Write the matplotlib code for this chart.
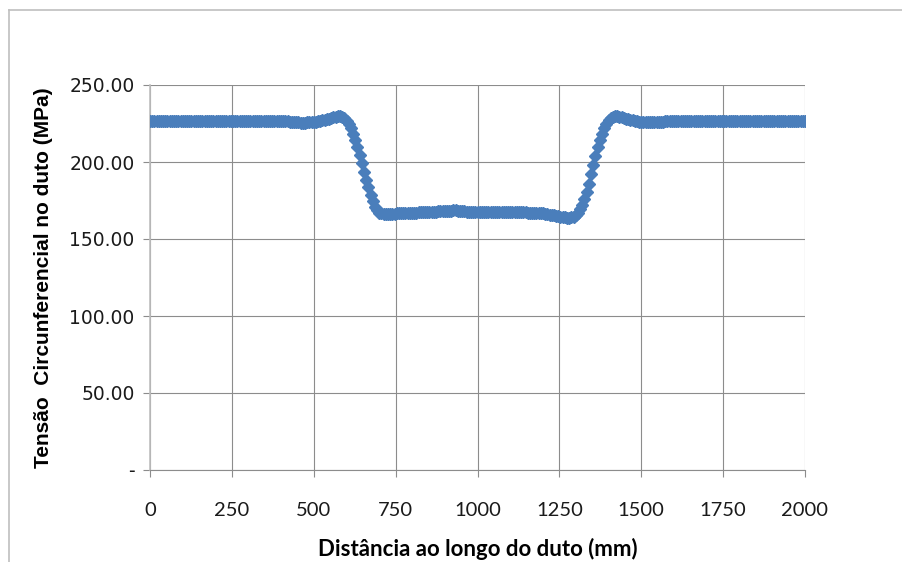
import numpy as np
import matplotlib
matplotlib.use("Agg")
import matplotlib.pyplot as plt
from matplotlib.lines import Line2D

# distance along the pipe (mm): 301 readings from 0 to 2000
distancia = np.linspace(0, 2000, 301)

# hoop stress (MPa)
flat_start = [
    226.6, 226.6, 226.6, 226.6, 226.6, 226.6, 226.6, 226.6, 226.6, 226.6,
    226.6, 226.6, 226.6, 226.6, 226.6, 226.6, 226.6, 226.6, 226.6, 226.6,
    226.6, 226.6, 226.6, 226.6, 226.6, 226.6, 226.6, 226.6, 226.6, 226.6,
    226.6, 226.6, 226.6, 226.6, 226.6, 226.6, 226.6, 226.6, 226.6, 226.6,
    226.6, 226.6, 226.6, 226.6, 226.6, 226.6, 226.6, 226.6, 226.6, 226.6,
    226.6, 226.6, 226.6, 226.6, 226.6, 226.6, 226.6, 226.6, 226.6, 226.6,
    226.6, 226.6, 226.6,
]
bump_left = [
    226.3, 226.1, 225.9, 225.8, 225.7, 225.7, 225.6, 225.6, 225.6, 225.7,
    225.8, 225.9, 226.0, 226.2, 226.5, 226.7, 227.0, 227.4, 227.8, 228.2,
    228.6, 229.0, 229.3, 229.6, 229.7, 229.4, 228.5,
]
fall_and_valley = [
    226.8, 224.7, 222.0, 218.5, 214.3, 209.6, 204.5, 199.2, 193.8, 188.5,
    183.5, 178.8, 174.5, 171.0, 168.6, 167.2, 166.6, 166.3, 166.2, 166.2,
    166.3, 166.4, 166.5, 166.6, 166.7, 166.7, 166.8, 166.9, 166.9, 167.0,
    167.1, 167.1, 167.2, 167.3, 167.3, 167.4, 167.5, 167.5, 167.6, 167.7,
    167.7, 167.8, 167.9, 167.9, 168.0, 168.0, 168.2, 168.3, 168.5, 168.6,
    168.6, 168.5, 168.3, 168.1, 167.9, 167.8, 167.7, 167.6, 167.5, 167.5,
    167.5,
]
valley_end = [
    167.5, 167.5, 167.5, 167.5, 167.5, 167.5, 167.5, 167.5,
    167.4, 167.4, 167.4, 167.4, 167.4, 167.4, 167.4, 167.4,
    167.3, 167.3, 167.3, 167.3, 167.3, 167.3,
    167.2, 167.2, 167.2, 167.2, 167.2, 167.1, 167.0,
    166.7, 166.4, 166.2, 165.9, 165.6, 165.3, 165.0, 164.7, 164.5, 164.2,
    164.0, 163.9, 163.8, 164.0, 164.6,
]
rise_and_bump = [
    165.5, 167.0, 169.2, 172.0, 175.8, 180.5, 186.0, 192.0, 198.0, 204.0,
    209.5, 214.3, 218.5, 222.0, 224.8, 227.0, 228.5, 229.4, 229.8, 229.7,
    229.5, 229.0, 228.6, 228.2, 227.8, 227.4, 227.0, 226.7, 226.4, 226.2,
    226.0, 225.9, 225.9, 225.9, 225.9, 225.9, 226.0, 226.0, 226.0, 226.1,
    226.2, 226.3, 226.5,
]
flat_end = [
    226.6, 226.6, 226.6, 226.6, 226.6, 226.6, 226.6, 226.6, 226.6, 226.6,
    226.6, 226.6, 226.6, 226.6, 226.6, 226.6, 226.6, 226.6, 226.6, 226.6,
    226.6, 226.6, 226.6, 226.6, 226.6, 226.6, 226.6, 226.6, 226.6, 226.6,
    226.6, 226.6, 226.6, 226.6, 226.6, 226.6, 226.6, 226.6, 226.6, 226.6,
    226.6, 226.6, 226.6, 226.6, 226.6, 226.6, 226.6, 226.6, 226.6, 226.6,
    226.6, 226.6, 226.6, 226.6, 226.6, 226.6, 226.6, 226.6, 226.6, 226.6,
    226.6, 226.6, 226.6,
]
tensao = flat_start + bump_left + fall_and_valley + valley_end + rise_and_bump + flat_end

x_ticks = [0, 250, 500, 750, 1000, 1250, 1500, 1750, 2000]
y_ticks = [0, 50, 100, 150, 200, 250]
y_labels = ["-", "50.00", "100.00", "150.00", "200.00", "250.00"]

W, H = 902, 562
fig = plt.figure(figsize=(W / 100, H / 100), dpi=100)
ax = fig.add_axes([150 / W, 1 - 470 / H, 655 / W, 385 / H])

ax.plot(distancia, tensao, linestyle="none", marker="D", markersize=6,
        color="#4A7EBB", markeredgecolor="#4A7EBB", zorder=3)

ax.set_xlim(0, 2000)
ax.set_ylim(0, 250)
ax.set_xticks(x_ticks)
ax.set_yticks(y_ticks)
ax.set_yticklabels(y_labels)

grid_col = "#8C8C8C"
ax.grid(True, color=grid_col, linewidth=0.8)
ax.set_axisbelow(True)
for s in ["top", "right"]:
    ax.spines[s].set_visible(False)
ax.spines["left"].set_color("#BFBFBF")
ax.spines["left"].set_linewidth(1.2)
ax.spines["bottom"].set_color(grid_col)
ax.spines["bottom"].set_linewidth(0.8)
ax.tick_params(axis="both", direction="out", length=5, color=grid_col,
               labelcolor="#1a1a1a")
ax.tick_params(axis="x", pad=18, labelsize=14.5)
ax.tick_params(axis="y", pad=6, labelsize=13.5)
for lab in ax.get_xticklabels():
    lab.set_family("Lato")
for lab in ax.get_yticklabels():
    lab.set_family("DejaVu Sans")

ax.set_xlabel("Distância ao longo do duto (mm)", fontsize=16,
              fontweight="bold", family="Lato", labelpad=14)
ax.set_ylabel("Tensão  Circunferencial no duto (MPa)", fontsize=15,
              fontweight="bold", family="Liberation Sans", labelpad=12)

# chart area frame
fig.add_artist(Line2D([9 / W, 1], [1 - 10 / H] * 2, color="#BFBFBF", lw=1.2))
fig.add_artist(Line2D([9 / W] * 2, [0, 1 - 10 / H], color="#BFBFBF", lw=1.2))

fig.savefig("out.png", dpi=100)
